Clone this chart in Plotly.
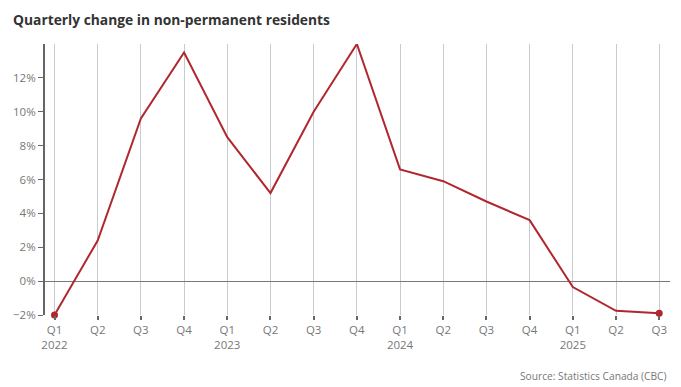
import plotly.graph_objects as go

quarters = ["Q1", "Q2", "Q3", "Q4", "Q1", "Q2", "Q3", "Q4", "Q1", "Q2", "Q3", "Q4", "Q1", "Q2", "Q3"]
years = ["2022", "", "", "", "2023", "", "", "", "2024", "", "", "", "2025", "", ""]
change_pct = [-2.0, 2.4, 9.6, 13.5, 8.5, 5.2, 10.0, 14.0, 6.6, 5.9, 4.7, 3.6, -0.35, -1.75, -1.9]
y_ticks = [-2, 0, 2, 4, 6, 8, 10, 12]

idx = list(range(len(quarters)))
ticktext = [q + ("<br>" + y if y else "") for q, y in zip(quarters, years)]
red = "#b0282e"
font = "Open Sans"

# page body has an 8px margin, so the figure is sized to fit the window
W, H = 673, 379

fig = go.Figure()
fig.add_trace(go.Scatter(
    x=idx, y=change_pct, mode="lines", cliponaxis=False,
    line=dict(color=red, width=2), hoverinfo="skip", showlegend=False))
fig.add_trace(go.Scatter(
    x=[idx[0], idx[-1]], y=[change_pct[0], change_pct[-1]], mode="markers",
    cliponaxis=False,
    marker=dict(color=red, size=7), hoverinfo="skip", showlegend=False))

fig.update_layout(
    width=W, height=H,
    margin=dict(l=37, r=11, t=36, b=72, autoexpand=False),
    paper_bgcolor="white", plot_bgcolor="white",
    font=dict(family=font, color="#777777", size=11.5),
    title=dict(text="<b>Quarterly change in non-permanent residents</b>",
               xref="container", yref="container",
               x=5 / W, xanchor="left", y=1 - 12 / H, yanchor="middle",
               font=dict(family=font, size=13.8, color="#333333")),
    xaxis=dict(
        range=[-0.22, 14.25], tickmode="array", tickvals=idx, ticktext=ticktext,
        showgrid=True, gridcolor="#c5cbd1", gridwidth=1,
        ticks="outside", ticklen=4, tickwidth=2, tickcolor="#666666",
        showline=False, zeroline=False, fixedrange=True, automargin=False,
        tickfont=dict(size=11.5, color="#777777")),
    yaxis=dict(
        range=[-2, 14], tickmode="array", tickvals=y_ticks,
        ticktext=[("\u22122" if v < 0 else str(v)) + "%" for v in y_ticks],
        showgrid=False, zeroline=True, zerolinecolor="#777777", zerolinewidth=1,
        showline=True, linecolor="#666666", linewidth=2,
        ticks="outside", ticklen=5, tickwidth=1, tickcolor="#666666",
        fixedrange=True, automargin=False, tickfont=dict(size=11.5, color="#777777")),
    annotations=[dict(
        text="Source: Statistics Canada (CBC)", xref="paper", yref="paper",
        x=0.998, y=-0.225, xanchor="right", yanchor="middle", showarrow=False,
        font=dict(family=font, size=10.2, color="#777777"))],
)

fig.write_html("out.html")
